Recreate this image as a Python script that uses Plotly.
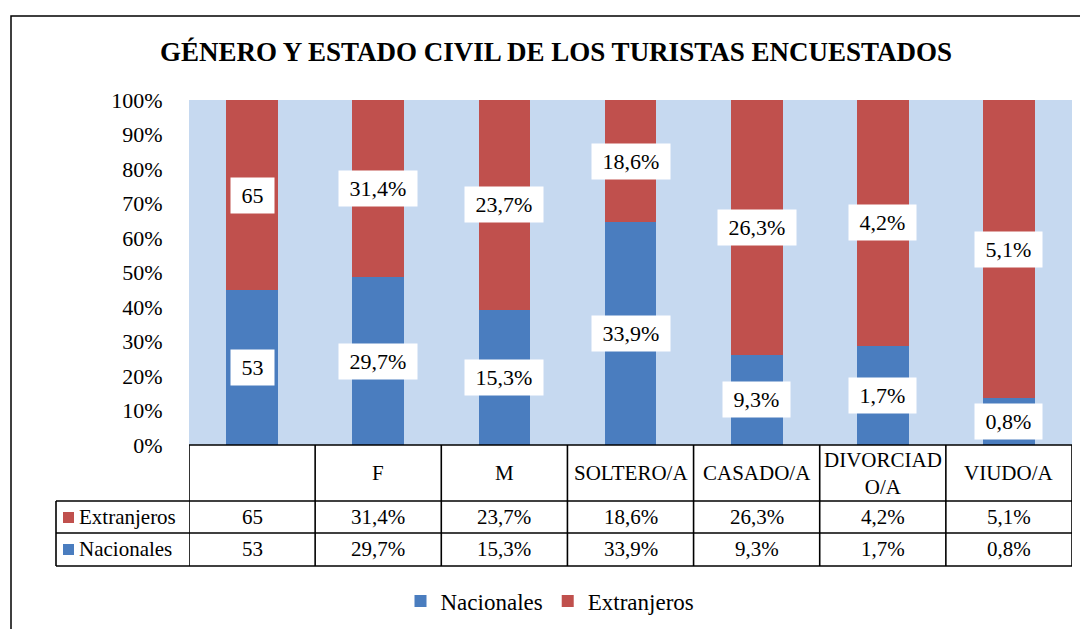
import plotly.graph_objects as go

# ---- data ----
categories = ["", "F", "M", "SOLTERO/A", "CASADO/A", "DIVORCIADO/A", "VIUDO/A"]
header_labels = ["", "F", "M", "SOLTERO/A", "CASADO/A", "DIVORCIAD<br>O/A", "VIUDO/A"]
nacionales = [53, 29.7, 15.3, 33.9, 9.3, 1.7, 0.8]
extranjeros = [65, 31.4, 23.7, 18.6, 26.3, 4.2, 5.1]
nacionales_text = ["53", "29,7%", "15,3%", "33,9%", "9,3%", "1,7%", "0,8%"]
extranjeros_text = ["65", "31,4%", "23,7%", "18,6%", "26,3%", "4,2%", "5,1%"]
y_ticks = [0, 10, 20, 30, 40, 50, 60, 70, 80, 90, 100]
y_ticktext = [f"{v}%" for v in y_ticks]

title_text = "GÉNERO Y ESTADO CIVIL DE LOS TURISTAS ENCUESTADOS"

# ---- layout geometry (screen pixels; page body adds an 8px offset) ----
OFF = 8
W, H = 1088, 629
L, R, T, B = 189, 1072, 100, 445
FONT = "Liberation Serif, Times New Roman, serif"
BLUE = "#4a7dbf"
RED = "#c0504d"


def px_x(X):
    return (X - L) / (R - L)


def px_y(Y):
    return (B - Y) / (B - T)


idx = list(range(len(categories)))

fig = go.Figure()
fig.add_trace(go.Bar(x=idx, y=nacionales, name="Nacionales", marker_color=BLUE,
                     width=0.41, marker_line_width=0))
fig.add_trace(go.Bar(x=idx, y=extranjeros, name="Extranjeros", marker_color=RED,
                     width=0.41, marker_line_width=0))

shapes = []
annotations = []

# outer frame
shapes.append(dict(type="rect", xref="paper", yref="paper",
                   x0=px_x(11), x1=px_x(1300), y0=px_y(16), y1=px_y(800),
                   line=dict(color="black", width=1.5), fillcolor="rgba(0,0,0,0)", layer="above"))

# data labels
for i in idx:
    tot = nacionales[i] + extranjeros[i]
    pn = nacionales[i] / tot * 100
    pe = extranjeros[i] / tot * 100
    for yv, t in ((pn / 2, nacionales_text[i]), (pn + pe / 2, extranjeros_text[i])):
        annotations.append(dict(x=i, y=yv, xref="x", yref="y", showarrow=False,
                                xanchor="center", yanchor="middle",
                                text="\u00a0" + t + "\u00a0", bgcolor="white", borderpad=5,
                                font=dict(family=FONT, size=22, color="black")))

# table
LW = 1.6
y_hdr = px_y(501)
y_r1 = px_y(533)
y_r2 = px_y(566)
x_left = px_x(56)
for k in range(len(categories) + 1):
    shapes.append(dict(type="line", xref="x", yref="paper", x0=k - 0.5, x1=k - 0.5,
                       y0=0, y1=y_r2, line=dict(color="black", width=LW)))
shapes.append(dict(type="line", xref="paper", yref="paper", x0=0, x1=1, y0=0, y1=0,
                   line=dict(color="black", width=LW)))
for yy in (y_hdr, y_r1, y_r2):
    shapes.append(dict(type="line", xref="paper", yref="paper", x0=x_left, x1=1,
                       y0=yy, y1=yy, line=dict(color="black", width=LW)))
shapes.append(dict(type="line", xref="paper", yref="paper", x0=x_left, x1=x_left,
                   y0=y_hdr, y1=y_r2, line=dict(color="black", width=LW)))

# legend keys in table
for (yc, col) in ((517, RED), (549, BLUE)):
    shapes.append(dict(type="rect", xref="paper", yref="paper",
                       x0=px_x(63), x1=px_x(74), y0=px_y(yc - 5), y1=px_y(yc + 6),
                       line=dict(width=0), fillcolor=col))
for yc, t in ((517, "Extranjeros"), (549, "Nacionales")):
    annotations.append(dict(x=px_x(77), y=px_y(yc), xref="paper", yref="paper",
                            xanchor="left", yanchor="middle", text=t, showarrow=False,
                            font=dict(family=FONT, size=21, color="black")))

for i in idx:
    for yc, t in ((473, header_labels[i]), (517, extranjeros_text[i]), (549, nacionales_text[i])):
        if not t:
            continue
        annotations.append(dict(x=i, y=px_y(yc), xref="x", yref="paper", showarrow=False,
                                xanchor="center", yanchor="middle", text=t,
                                font=dict(family=FONT, size=21, color="black")))

# title
annotations.append(dict(x=px_x(556), y=px_y(52), xref="paper", yref="paper", showarrow=False,
                        xanchor="center", yanchor="middle",
                        text="<b>" + title_text + "</b>",
                        font=dict(family=FONT, size=27, color="black")))

fig.update_layout(
    width=W, height=H,
    margin=dict(l=L - OFF, r=W - (R - OFF), t=T - OFF, b=H - (B - OFF), autoexpand=False),
    barmode="stack", barnorm="percent",
    plot_bgcolor="#c6d9f0", paper_bgcolor="white",
    font=dict(family=FONT, size=21, color="black"),
    showlegend=True,
    legend=dict(orientation="h", traceorder="normal", x=px_x(550), xanchor="center",
                y=px_y(601), yanchor="middle",
                font=dict(family=FONT, size=23, color="black"), itemclick=False),
    xaxis=dict(range=[-0.5, 6.5], showticklabels=False, showgrid=False, zeroline=False,
               ticks="", showline=False),
    yaxis=dict(range=[0, 100], tickvals=y_ticks, ticktext=y_ticktext, showgrid=False,
               zeroline=False, showline=False, ticks="outside", ticklen=21,
               tickcolor="rgba(0,0,0,0)", tickfont=dict(family=FONT, size=22)),
    shapes=shapes, annotations=annotations,
)

fig.write_html("out.html")
